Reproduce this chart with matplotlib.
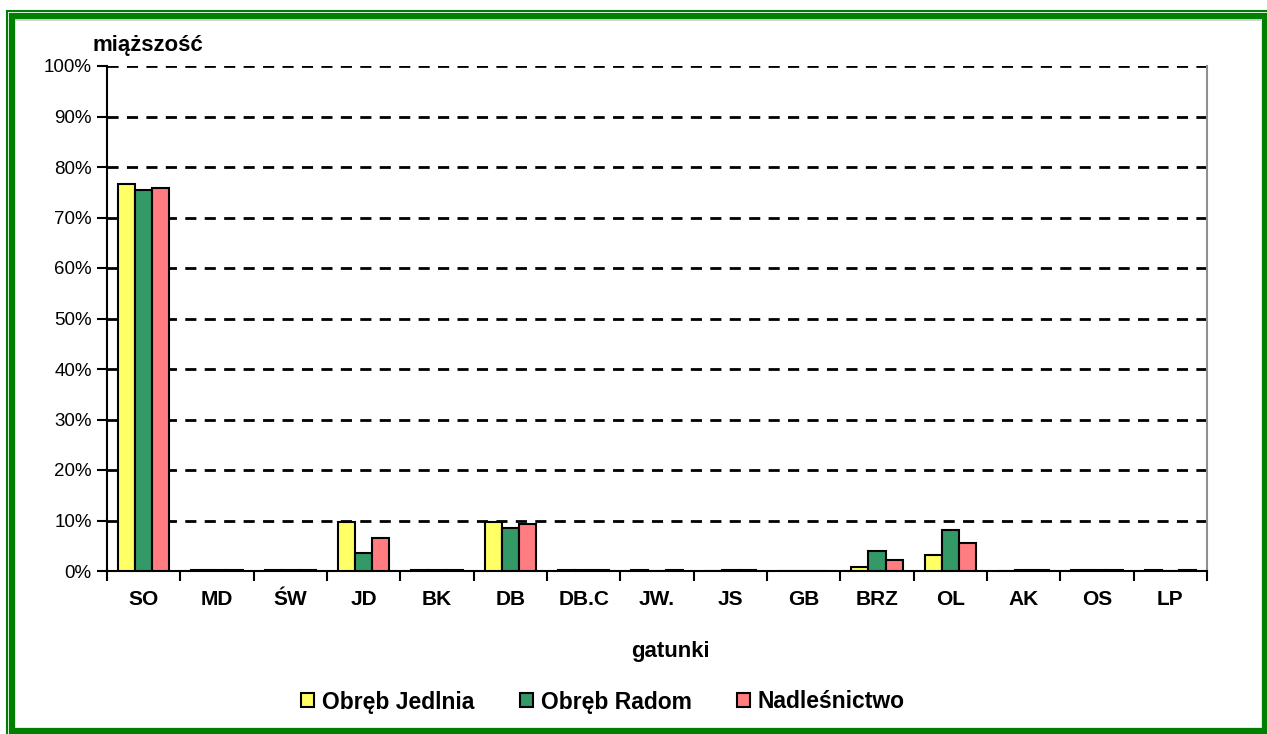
import numpy as np
import matplotlib
matplotlib.use('Agg')
import matplotlib.pyplot as plt
from matplotlib.patches import Rectangle
from matplotlib.lines import Line2D

plt.rcParams['font.family'] = ['Liberation Sans', 'DejaVu Sans']

# data (percent of volume)
categories = ['SO', 'MD', 'ŚW', 'JD', 'BK', 'DB', 'DB.C', 'JW.', 'JS', 'GB',
              'BRZ', 'OL', 'AK', 'OS', 'LP']
jedlnia = [76.7, 0.25, 0.25, 9.7, 0.25, 9.7, 0.25, 0.25, 0.0, 0.0, 0.75, 3.1, 0.0, 0.25, 0.25]
radom = [75.4, 0.25, 0.25, 3.6, 0.25, 8.5, 0.25, 0.0, 0.25, 0.0, 3.9, 8.2, 0.25, 0.25, 0.0]
nadlesnictwo = [75.85, 0.25, 0.25, 6.6, 0.25, 9.4, 0.25, 0.25, 0.25, 0.0, 2.2, 5.6, 0.25, 0.25, 0.25]
series_names = ['Obręb Jedlnia', 'Obręb Radom', 'Nadleśnictwo']
colors = ['#FFFF66', '#339966', '#FF7C80']

W, H = 1267, 734
fig = plt.figure(figsize=(W / 100, H / 100), dpi=100)
ax = fig.add_axes([107 / W, 1 - 571 / H, 1100 / W, 505 / H])

x = np.arange(len(categories))
bw = 0.232
for i, (vals, c, name) in enumerate(zip([jedlnia, radom, nadlesnictwo], colors, series_names)):
    ax.bar(x + (i - 1) * bw, vals, bw, color=c, edgecolor='black', linewidth=1.5,
           label=name, zorder=3)

ax.set_xlim(-0.5, len(categories) - 0.5)
ax.set_ylim(0, 100)
ax.set_yticks(np.arange(0, 101, 10))
ax.set_yticklabels([f'{v}%' for v in range(0, 101, 10)])
for v in range(10, 101, 10):
    ax.axhline(v, color='black', lw=2, dashes=(4, 3), zorder=1)

# category labels centred, ticks between groups
ax.set_xticks(np.arange(-0.5, len(categories), 1))
ax.set_xticklabels([])
ax.set_xticks(x, minor=True)
ax.set_xticklabels(categories, minor=True, fontsize=15, fontweight='bold')
ax.tick_params(axis='x', which='minor', length=0, pad=14)
ax.tick_params(axis='x', which='major', length=7, width=1.5, direction='out')
ax.tick_params(axis='y', length=7, width=1.5, direction='out', labelsize=13.5, pad=4)

ax.spines['top'].set_visible(False)
ax.spines['right'].set_color('#909090')
ax.spines['right'].set_linewidth(1.5)
ax.spines['left'].set_linewidth(1.5)
ax.spines['bottom'].set_linewidth(1.5)

fig.text(92 / W, 1 - 45 / H, 'miąższość', fontsize=16, fontweight='bold',
         ha='left', va='center')
fig.text(670 / W, 1 - 651 / H, 'gatunki', fontsize=16, fontweight='bold',
         ha='center', va='center')

fig.legend(loc='center', bbox_to_anchor=(603 / W, 1 - 702 / H), ncol=3,
           frameon=False, prop={'size': 16.5, 'weight': 'bold'},
           handlelength=0.55, handleheight=0.55,
           handletextpad=0.35, columnspacing=2.0)

# green double frame
green = '#008000'
fig.add_artist(Line2D([7 / W, 7 / W], [0, 1 - 11 / H], color=green, lw=1.5,
                      transform=fig.transFigure))
fig.add_artist(Line2D([7 / W, 1], [1 - 11 / H, 1 - 11 / H], color=green, lw=1.5,
                      transform=fig.transFigure))
fig.add_artist(Rectangle((12 / W, 1 - 731 / H), 1252.5 / W, 715.5 / H, fill=False,
                         edgecolor=green, lw=4.5, transform=fig.transFigure))
fig.add_artist(Line2D([16 / W, 1260 / W], [1 - 20 / H, 1 - 20 / H], color='#c8c8c8',
                      lw=1.2, transform=fig.transFigure))

fig.savefig('out.png', dpi=100)
